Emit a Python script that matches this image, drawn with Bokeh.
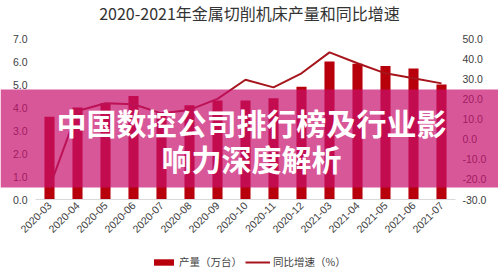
from bokeh.plotting import figure
from bokeh.models import (Range1d, LinearAxis, FixedTicker, NumeralTickFormatter,
                          Legend, LegendItem, ColumnDataSource)
from bokeh.core.properties import value
from bokeh.embed import file_html
from bokeh.resources import INLINE
import numpy as np
import math

months = ["2020-03", "2020-04", "2020-05", "2020-06", "2020-07", "2020-08", "2020-09",
          "2020-10", "2020-11", "2020-12", "2021-03", "2021-04", "2021-05", "2021-06", "2021-07"]
output = [3.6, 4.0, 4.2, 4.5, 3.8, 4.1, 4.3, 4.3, 4.4, 4.9, 6.0, 5.9, 5.8, 5.7, 5.0]
growth = [-24.0, 14.0, 17.8, 17.3, 12.8, 14.5, 20.0, 29.5, 25.7, 32.7, 43.1, 37.7, 32.7, 30.2, 27.7]
left_ticks = [0, 1, 2, 3, 4, 5, 6, 7]
right_ticks = [-30, -20, -10, 0, 10, 20, 30, 40, 50]

title_text = "2020-2021年金属切削机床产量和同比增速"
banner_lines = ["中国数控公司排行榜及行业影", "响力深度解析"]
legend_labels = ["产量（万台）", "同比增速（%）"]

CJK = "Noto Sans CJK SC"
NUM = "Liberation Sans"
BAR_COLOR = "#b8000c"
LINE_COLOR = "#a6141c"
TXT = "#404040"

W, H = 498, 276

# ---------------- main chart ----------------
src = ColumnDataSource(dict(m=months, v=output, g=growth))

p = figure(width=W, height=H, x_range=months, y_range=Range1d(0, 7),
           output_backend="svg", toolbar_location=None,
           min_border_left=35, min_border_right=43, min_border_top=38, min_border_bottom=77)
p.extra_y_ranges = {"y2": Range1d(-30, 50)}
p.outline_line_color = None
p.xgrid.grid_line_color = None
p.ygrid.grid_line_color = None
p.x_range.range_padding = 0

p.vbar(x="m", top="v", width=0.36, source=src, fill_color=BAR_COLOR, line_color=None)
p.line(x="m", y="g", source=src, y_range_name="y2", line_color=LINE_COLOR, line_width=2)


def style_axis(ax, size="10.5px", standoff=8):
    ax.axis_line_color = None
    ax.major_tick_line_color = None
    ax.minor_tick_line_color = None
    ax.major_tick_out = 0
    ax.major_tick_in = 0
    ax.minor_tick_out = 0
    ax.major_label_text_font = NUM
    ax.major_label_text_font_size = size
    ax.major_label_text_color = TXT
    ax.major_label_standoff = standoff


ya = p.yaxis[0]
ya.ticker = FixedTicker(ticks=left_ticks)
ya.formatter = NumeralTickFormatter(format="0.0")
style_axis(ya, standoff=8)

ra = LinearAxis(y_range_name="y2", ticker=FixedTicker(ticks=right_ticks),
                formatter=NumeralTickFormatter(format="0.0"))
style_axis(ra, standoff=7)
p.add_layout(ra, "right")

xa = p.xaxis[0]
style_axis(xa, size="10.5px", standoff=4)
xa.axis_line_color = "#d9d9d9"
xa.major_label_orientation = math.pi / 4

# ---------------- overlay: title, legend and banner ----------------
ov = figure(width=W, height=H, x_range=Range1d(0, W), y_range=Range1d(H, 0),
            x_axis_type=None, y_axis_type=None,
            output_backend="svg", toolbar_location=None, min_border=0)
ov.background_fill_alpha = 0
ov.border_fill_alpha = 0
ov.outline_line_color = None
ov.margin = (-H, 0, 0, 0)

ov.text(x=[W / 2], y=[12], text=[title_text], text_font=value(CJK), text_font_size="16px",
        text_color="#333333", text_align="center", text_baseline="middle")

# style-only renderers for the legend keys (no drawable values)
nan = np.array([np.nan])
key_bar = ov.vbar(x=nan, top=nan, width=1, fill_color=BAR_COLOR, line_color=None)
key_line = ov.line(x=nan, y=nan, line_color=LINE_COLOR, line_width=2)
legend = Legend(items=[LegendItem(label=legend_labels[0], renderers=[key_bar]),
                       LegendItem(label=legend_labels[1], renderers=[key_line])],
                orientation="horizontal", location=(151, 7),
                label_text_font=CJK, label_text_font_size="10.5px", label_text_color=TXT,
                glyph_width=25, glyph_height=8, label_standoff=3, spacing=3,
                padding=0, margin=0, background_fill_alpha=0, border_line_alpha=0,
                label_height=12)
ov.add_layout(legend, "center")

ov.quad(left=[0], right=[W], top=[89], bottom=[187], fill_color="#c8106e", fill_alpha=0.7,
        line_color=None)
ov.text(x=[W / 2 + 2, W / 2 + 2], y=[121, 157], text=banner_lines, text_font=value(CJK),
        text_font_size="30px", text_font_style="bold", text_color="white",
        text_align="center", text_baseline="middle")

open("out.html", "w").write(file_html([p, ov], INLINE))
